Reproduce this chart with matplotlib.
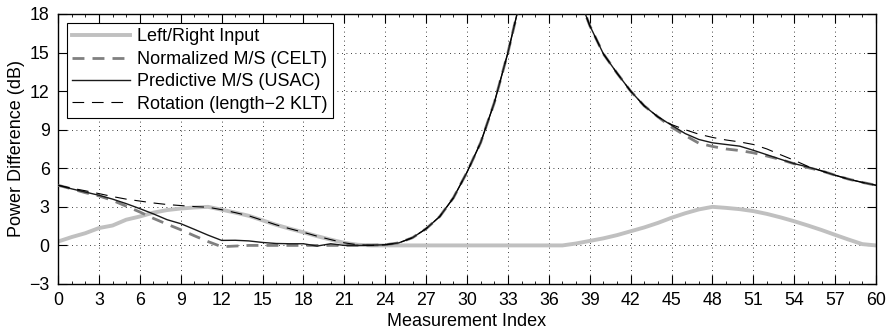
import numpy as np
import matplotlib
matplotlib.use("Agg")
import matplotlib.pyplot as plt
from matplotlib.ticker import MultipleLocator

plt.rcParams['font.family'] = ['Liberation Sans', 'DejaVu Sans']

index = list(range(61))

left_right = [0.3, 0.65, 0.95, 1.35, 1.55, 2.0, 2.25, 2.55, 2.75, 2.87,
              2.95, 3.0, 2.78, 2.55, 2.3, 1.95, 1.6, 1.3, 1.02, 0.72,
              0.45, 0.2, 0.05, 0.0, 0.0, 0.0, 0.0, 0.0, 0.0, 0.0,
              0.0, 0.0, 0.0, 0.0, 0.0, 0.0, 0.0, 0.0, 0.15, 0.35,
              0.55, 0.8, 1.1, 1.4, 1.75, 2.15, 2.5, 2.8, 3.0, 2.92,
              2.82, 2.67, 2.45, 2.18, 1.88, 1.55, 1.2, 0.82, 0.45, 0.1,
              0.0]

predictive = [4.68, 4.4, 4.15, 3.9, 3.6, 3.25, 2.86, 2.45, 2.0, 1.69,
              1.25, 0.8, 0.39, 0.4, 0.35, 0.23, 0.15, 0.13, 0.13, -0.05,
              0.13, 0.0, 0.0, 0.02, 0.05, 0.2, 0.6, 1.3, 2.25, 3.7,
              5.7, 8.0, 11.1, 15.0, 19.5, 24.0, 27.0, 24.0, 19.9, 17.1,
              14.9, 13.4, 12.0, 10.85, 10.0, 9.35, 8.7, 8.24, 7.98, 7.85,
              7.72, 7.4, 7.05, 6.7, 6.36, 6.1, 5.8, 5.46, 5.15, 4.9,
              4.68]

normalized = [4.68, 4.4, 4.1, 3.85, 3.5, 3.05, 2.6, 2.1, 1.65, 1.22,
              0.75, 0.3, -0.1, -0.05, 0.0, 0.0, 0.0, 0.0, 0.0, 0.0,
              0.0, 0.0, 0.0, 0.02, 0.05, 0.2, 0.6, 1.3, 2.25, 3.7,
              5.7, 8.0, 11.1, 15.0, 19.5, 24.0, 27.0, 24.0, 19.9, 17.1,
              14.9, 13.4, 12.0, 10.85, 10.0, 9.2, 8.55, 7.95, 7.7, 7.5,
              7.38, 7.2, 6.95, 6.68, 6.35, 6.05, 5.8, 5.46, 5.15, 4.9,
              4.68]

rotation = [4.68, 4.45, 4.25, 4.03, 3.8, 3.6, 3.45, 3.3, 3.18, 3.1,
            3.02, 2.97, 2.78, 2.55, 2.3, 1.95, 1.6, 1.3, 1.02, 0.72,
            0.45, 0.2, 0.05, 0.0, 0.05, 0.2, 0.6, 1.3, 2.25, 3.7,
            5.7, 8.0, 11.1, 15.0, 19.5, 24.0, 27.0, 24.0, 19.9, 17.1,
            14.9, 13.4, 12.0, 10.85, 10.0, 9.4, 9.0, 8.65, 8.4, 8.2,
            8.05, 7.85, 7.5, 7.05, 6.62, 6.15, 5.8, 5.46, 5.15, 4.9,
            4.68]

labels = ["Left/Right Input", "Normalized M/S (CELT)",
          "Predictive M/S (USAC)", "Rotation (length\u22122 KLT)"]

fig = plt.figure(figsize=(8.93, 3.32), dpi=100)
ax = fig.add_axes([0.065, 0.1446, 0.916, 0.8133])

ax.plot(index, left_right, color='#c0c0c0', lw=2.8, label=labels[0], zorder=2)
l2, = ax.plot(index, normalized, color='#808080', lw=2.0, label=labels[1], zorder=3)
l2.set_dashes([4.3, 2.9])
ax.plot(index, predictive, color='#1a1a1a', lw=1.0, label=labels[2], zorder=4)
l4, = ax.plot(index, rotation, color='black', lw=0.8, label=labels[3], zorder=5)
l4.set_dashes([10.5, 7.0])

ax.set_xlim(0, 60)
ax.set_ylim(-3, 18)
ax.set_xticks(np.arange(0, 61, 3))
ax.set_yticks(np.arange(-3, 19, 3))
ax.xaxis.set_minor_locator(MultipleLocator(1))
ax.tick_params(which='major', direction='in', length=6.5, width=0.8,
               top=True, right=True, labelsize=12.8, pad=6)
ax.tick_params(which='minor', direction='in', length=2.0, width=0.6,
               top=True, bottom=True)
ax.grid(True, which='major', linestyle=(0, (1, 4.4)), color='black', lw=0.6)
for s in ax.spines.values():
    s.set_linewidth(1.0)

ax.set_xlabel("Measurement Index", fontsize=13, labelpad=2.5)
ax.set_ylabel("Power Difference (dB)", fontsize=13, labelpad=3)

leg = ax.legend(loc='upper left', fontsize=13, handlelength=3.2,
                borderaxespad=0.5, fancybox=False, framealpha=1,
                edgecolor='black', borderpad=0.3, labelspacing=0.3,
                handletextpad=0.4)
leg.get_frame().set_linewidth(0.8)

fig.savefig("out.png", dpi=100)
